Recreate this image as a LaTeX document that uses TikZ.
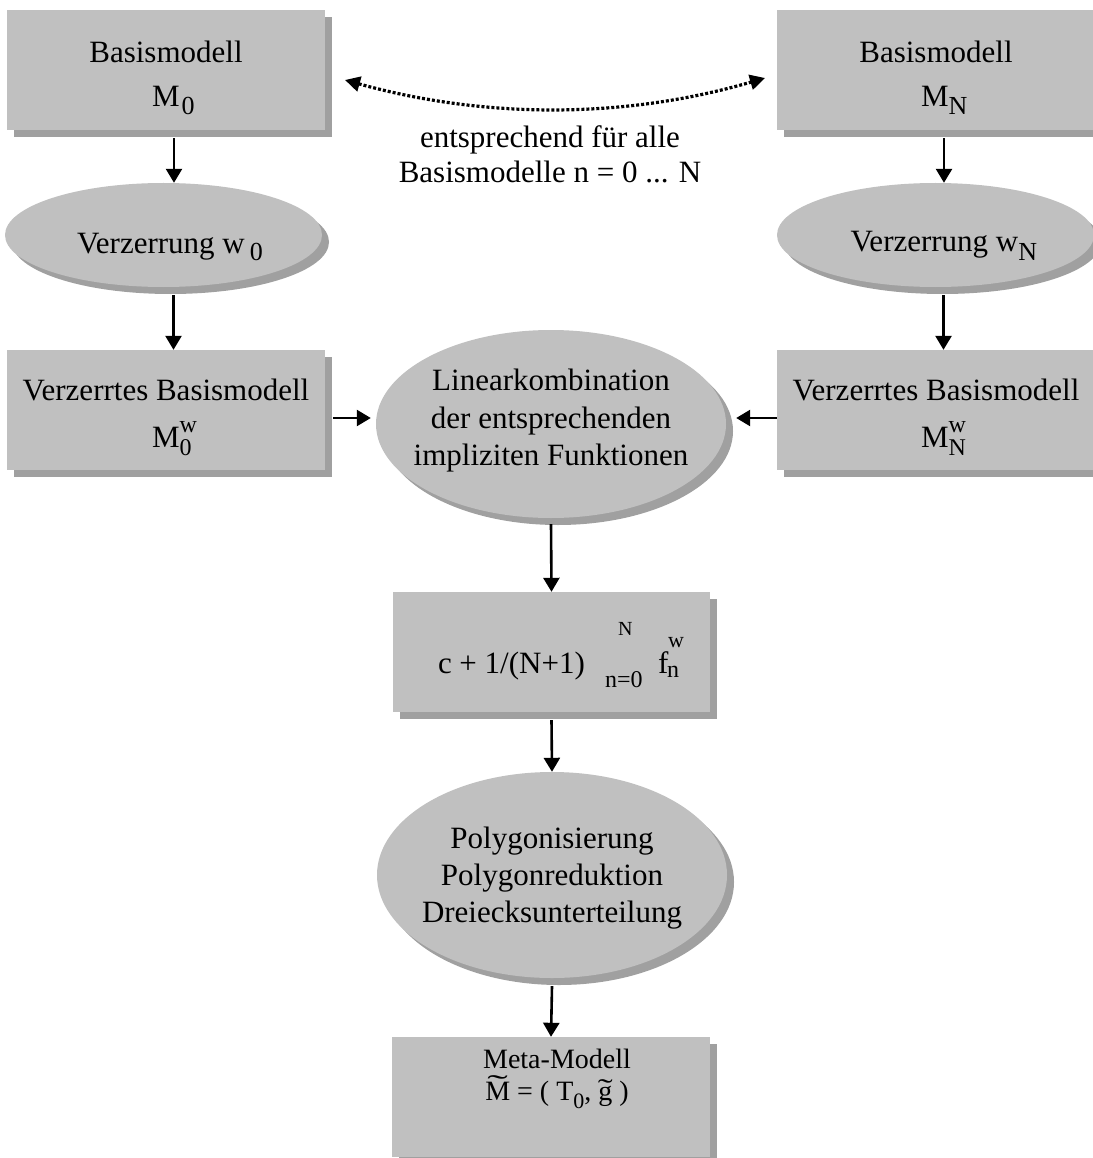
\documentclass[tikz,border=0pt]{standalone}
\usepackage{fontspec}
\setmainfont{Liberation Serif}
\usepackage{graphicx}
\usetikzlibrary{arrows.meta,shadows,shapes.geometric,calc}
\definecolor{boxc}{RGB}{192,192,192}
\definecolor{shadc}{RGB}{160,160,160}
\newcommand\fs[1]{\fontsize{#1}{#1}\selectfont}
\newcommand\tc[2]{\makebox[0pt][c]{\raisebox{#1}[0pt][0pt]{#2}}}
\newcommand\tlft[3]{\makebox[0pt][l]{\hspace*{#1}\raisebox{#2}[0pt][0pt]{#3}}}
\newcommand\lo[1]{\raisebox{-8pt}{\fs{26}#1}}
\newcommand\supsub[2]{\rlap{\raisebox{15pt}{\fs{24}#1}}\raisebox{-8pt}{\fs{24}#2}}
\newcommand\wtil[3]{\ooalign{#3\cr\hidewidth\raisebox{#1}{\scalebox{#2}[1]{\char"02DC}}\hidewidth\cr}}
\tikzset{
  shp/.style={fill=boxc, draw=none, inner sep=0pt, font=\fs{31},
    drop shadow={shadow xshift=7pt, shadow yshift=-7pt, fill=shadc, opacity=1}},
  rbox/.style={shp, rectangle, minimum width=318pt, minimum height=120pt},
  ell/.style={shp, ellipse},
  arr/.style={-{Triangle[length=14pt,width=16pt]}, line width=2.6pt},
  darr/.style={{Triangle[length=15pt,width=15pt]}-{Triangle[length=15pt,width=15pt]},
    line width=3.2pt, dash pattern=on 3pt off 2pt},
  txt/.style={inner sep=0pt, font=\fs{31}}
}
\begin{document}
\begin{tikzpicture}[x=1pt,y=-1pt]
\fill[white] (0,0) rectangle (1092,1158);
\useasboundingbox (0,0) rectangle (1092,1158);

% left column
\node[rbox] (m0) at (166,70) {\tc{7pt}{Basismodell}\tlft{-14pt}{-37pt}{M\kern2pt\lo{0}}};
\node[ell, minimum width=317pt, minimum height=104pt] (w0) at (163.5,235)
  {\tlft{-86.5pt}{-18pt}{Verzerrung w\kern5pt\lo{0}}};
\node[rbox] (m0w) at (166,410) {\tc{10pt}{Verzerrtes Basismodell}\tlft{-14pt}{-37pt}{M\supsub{w}{0}}};

% right column
\node[rbox] (mN) at (936,70) {\tc{7pt}{Basismodell}\tlft{-15pt}{-37pt}{M\lo{N}}};
\node[ell, minimum width=317pt, minimum height=104pt] (wN) at (935.5,235)
  {\tlft{-85pt}{-17pt}{Verzerrung w\lo{N}}};
\node[rbox] (mNw) at (936,410) {\tc{10pt}{Verzerrtes Basismodell}\tlft{-15pt}{-37pt}{M\supsub{w}{N}}};

% middle
\node[txt] (note) at (550,165) {\tc{17pt}{entsprechend für alle}\tc{-18pt}{Basismodelle n = 0 ... N}};
\node[ell, minimum width=350pt, minimum height=188pt] (lin) at (551,424)
  {\tc{34pt}{Linearkombination}\tc{-4pt}{der entsprechenden}\tc{-41pt}{impliziten Funktionen}};
\node[rbox, minimum width=317pt] (fbox) at (551.5,652)
  {\tlft{-113.5pt}{-21pt}{c}\tlft{-92pt}{-21pt}{+ 1/(N+1)}\tlft{66.5pt}{17pt}{\fs{20}N}\tlft{53.5pt}{-35pt}{\fs{24}n=0}\tlft{106.5pt}{-21pt}{f}\tlft{115.5pt}{-25pt}{\fs{24}n}\tlft{116.5pt}{5pt}{\fs{22}w}};
\node[ell, minimum width=350pt, minimum height=206pt] (poly) at (552,875)
  {\tc{27pt}{Polygonisierung}\tc{-10pt}{Polygonreduktion}\tc{-47pt}{Dreiecksunterteilung}};
\node[rbox] (meta) at (551,1097)
  {\tc{29pt}{\hspace*{12pt}\fs{28}Meta-Modell}\tc{-3pt}{\hspace*{12pt}\fs{28}\wtil{6pt}{2.2}{M} = ( T\raisebox{-8pt}{\fs{22}0}, \wtil{2pt}{1.6}{g} )}};

% dotted double arrow
\coordinate (dl) at (345,80);
\coordinate (dr) at (765,78);
\draw[darr] (dl) .. controls (485,119) and (625,119) .. (dr);

% connectors
\coordinate (a1) at ([xshift=8pt,yshift=-8pt]m0.south);
\draw[arr] (a1) -- (a1 |- w0.north);
\coordinate (a2) at ([xshift=8pt,yshift=-8pt]mN.south);
\draw[arr] (a2) -- (a2 |- wN.north);
\coordinate (a3) at ([xshift=10pt,yshift=-8pt]w0.south);
\draw[arr] (a3) -- (a3 |- m0w.north);
\coordinate (a4) at ([xshift=8pt,yshift=-8pt]wN.south);
\draw[arr] (a4) -- (a4 |- mNw.north);
\coordinate (a5) at ([xshift=8pt,yshift=-8pt]m0w.east);
\draw[arr, shorten >=5pt] (a5) -- (a5 -| lin.west);
\coordinate (a6) at ([yshift=-8pt]mNw.west);
\draw[arr] (a6) -- ($(a6 -| lin.east)+(10,0)$);
\draw[arr] ([yshift=-6pt]lin.south) -- (fbox.north);
\draw[arr] ([yshift=-8pt]fbox.south) -- (poly.north);
\draw[arr] ([yshift=-8pt]poly.south) -- (meta.north);
\end{tikzpicture}
\end{document}
